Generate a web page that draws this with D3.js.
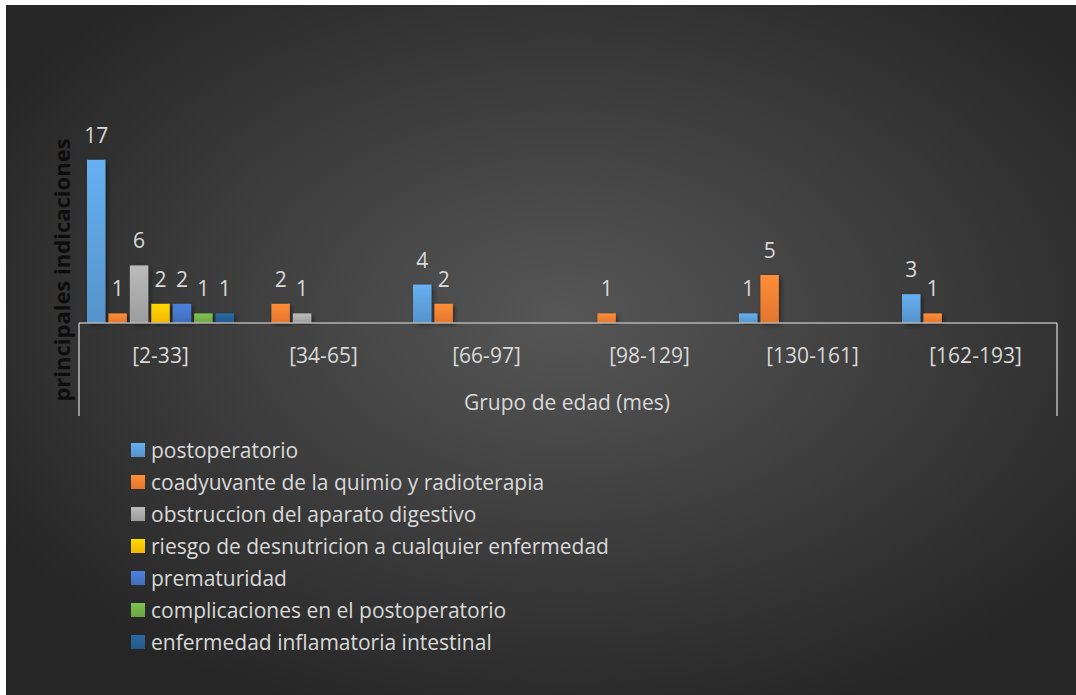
<!DOCTYPE html>
<html>
<head>
<meta charset="utf-8">
<script src="https://cdn.jsdelivr.net/npm/d3@7"></script>
<style>
  html, body { margin: 0; padding: 0; background: #ffffff; }
  svg { display: block; }
  text { font-family: "Open Sans", "Lato", sans-serif; }
</style>
</head>
<body>
<div id="chart"></div>
<script>
// Age groups (months)
const categories = ["[2-33]", "[34-65]", "[66-97]", "[98-129]", "[130-161]", "[162-193]"];

// Counts per indication and age group (null = no cases)
const postoperatorio  = [17, null, 4, null, 1, 3];
const coadyuvante     = [1, 2, 2, 1, 5, 1];
const obstruccion     = [6, 1, null, null, null, null];
const riesgo          = [2, null, null, null, null, null];
const prematuridad    = [2, null, null, null, null, null];
const complicaciones  = [1, null, null, null, null, null];
const inflamatoria    = [1, null, null, null, null, null];

const seriesNames = [
  "postoperatorio",
  "coadyuvante de la quimio y radioterapia",
  "obstruccion del aparato digestivo",
  "riesgo de desnutricion a cualquier enfermedad",
  "prematuridad",
  "complicaciones en el postoperatorio",
  "enfermedad inflamatoria intestinal"
];
const seriesValues = [postoperatorio, coadyuvante, obstruccion, riesgo, prematuridad, complicaciones, inflamatoria];
const seriesColors = ["#5B9BD5", "#ED7D31", "#A5A5A5", "#FFC000", "#4472C4", "#70AD47", "#255E91"];

const W = 1076, H = 695;
const svg = d3.select("#chart").append("svg").attr("width", W).attr("height", H);
const defs = svg.append("defs");

// Chart background: dark radial gradient
const bg = defs.append("radialGradient").attr("id", "bg")
  .attr("cx", "52%").attr("cy", "45%").attr("r", "62%");
bg.append("stop").attr("offset", "0%").attr("stop-color", "#565656");
bg.append("stop").attr("offset", "100%").attr("stop-color", "#262626");
svg.append("rect").attr("x", 6).attr("y", 5).attr("width", W - 6).attr("height", H - 5)
  .attr("fill", "url(#bg)");

// Per-series vertical gradients (lighter top)
seriesColors.forEach((c, i) => {
  const g = defs.append("linearGradient").attr("id", "bar" + i)
    .attr("x1", 0).attr("y1", 0).attr("x2", 0).attr("y2", 1);
  g.append("stop").attr("offset", "0%").attr("stop-color", d3.color(c).brighter(0.35));
  g.append("stop").attr("offset", "100%").attr("stop-color", d3.color(c).darker(0.15));
});

const shadow = defs.append("filter").attr("id", "shadow")
  .attr("x", "-30%").attr("y", "-10%").attr("width", "160%").attr("height", "130%");
shadow.append("feDropShadow").attr("dx", 2).attr("dy", 2).attr("stdDeviation", 2.5)
  .attr("flood-color", "#000").attr("flood-opacity", 0.45);

// Plot area
const plot = { left: 79, right: 1057, top: 131, bottom: 323 };

const x0 = d3.scaleBand().domain(categories).range([plot.left, plot.right]).paddingInner(0).paddingOuter(0);
const x1 = d3.scaleBand().domain(d3.range(seriesNames.length))
  .range([8, x0.bandwidth() - 8]).paddingInner(0.14).paddingOuter(0);
const y = d3.scaleLinear().domain([0, 20]).range([plot.bottom, plot.top]);

const labelColor = "#d9d9d9";
const fontSize = 21;

// Bars and value labels
const barData = [];
seriesValues.forEach((vals, s) => {
  vals.forEach((v, c) => {
    if (v != null) barData.push({ s, c, v });
  });
});

const gBars = svg.append("g");
gBars.selectAll("rect").data(barData).join("rect")
  .attr("x", d => x0(categories[d.c]) + x1(d.s))
  .attr("y", d => y(d.v))
  .attr("width", x1.bandwidth())
  .attr("height", d => y(0) - y(d.v))
  .attr("fill", d => `url(#bar${d.s})`)
  .attr("filter", "url(#shadow)");

svg.append("g").selectAll("text").data(barData).join("text")
  .attr("x", d => x0(categories[d.c]) + x1(d.s) + x1.bandwidth() / 2)
  .attr("y", d => y(d.v) - 17)
  .attr("text-anchor", "middle")
  .attr("fill", labelColor)
  .attr("font-size", fontSize)
  .text(d => d.v);

// Axis lines (multi-level category box)
const axisColor = "#bfbfbf";
const gAxis = svg.append("g").attr("stroke", axisColor).attr("stroke-width", 1.6).attr("opacity", 0.9);
gAxis.append("line").attr("x1", plot.left).attr("x2", plot.right).attr("y1", plot.bottom).attr("y2", plot.bottom);
gAxis.append("line").attr("x1", plot.left).attr("x2", plot.left).attr("y1", plot.bottom).attr("y2", 416);
gAxis.append("line").attr("x1", plot.right).attr("x2", plot.right).attr("y1", plot.bottom).attr("y2", 416);

// Category labels
const xAxis = d3.axisBottom(x0).tickSize(0).tickPadding(0);
const gx = svg.append("g").attr("transform", `translate(0,${plot.bottom})`).call(xAxis);
gx.select(".domain").remove();
gx.selectAll("text")
  .attr("y", 40)
  .attr("dy", 0)
  .attr("fill", labelColor)
  .attr("font-size", fontSize)
  .attr("font-family", "'Open Sans', Lato, sans-serif");

// Axis titles
svg.append("text")
  .attr("x", (plot.left + plot.right) / 2 - 1)
  .attr("y", 410)
  .attr("text-anchor", "middle")
  .attr("fill", labelColor)
  .attr("font-size", fontSize)
  .text("Grupo de edad (mes)");

svg.append("text")
  .attr("transform", "translate(70,270) rotate(-90)")
  .attr("text-anchor", "middle")
  .attr("fill", "#0d0d0d")
  .attr("font-size", 22)
  .attr("font-weight", "bold")
  .text("principales indicaciones");

// Legend
const legend = svg.append("g").attr("transform", "translate(131,450)");
const items = legend.selectAll("g").data(seriesNames).join("g")
  .attr("transform", (d, i) => `translate(0,${i * 32})`);
items.append("rect")
  .attr("x", 0).attr("y", -7).attr("width", 14).attr("height", 14)
  .attr("fill", (d, i) => `url(#bar${i})`);
items.append("text")
  .attr("x", 20).attr("y", 7.5)
  .attr("fill", labelColor)
  .attr("font-size", fontSize)
  .text(d => d);
</script>
</body>
</html>
